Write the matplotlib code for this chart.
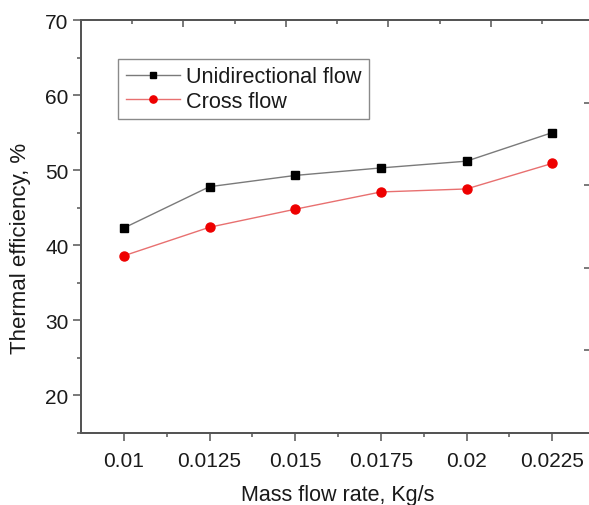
import matplotlib
matplotlib.use("Agg")
import matplotlib.pyplot as plt
from matplotlib.ticker import MultipleLocator, FixedLocator

plt.rcParams['font.family'] = ['Liberation Sans', 'DejaVu Sans']

# data
mass_flow = [0.01, 0.0125, 0.015, 0.0175, 0.02, 0.0225]
unidirectional = [42.3, 47.8, 49.3, 50.3, 51.2, 55.0]
cross = [38.6, 42.4, 44.8, 47.1, 47.5, 50.9]
xtick_labels = ['0.01', '0.0125', '0.015', '0.0175', '0.02', '0.0225']
x_minor = [0.01125, 0.01375, 0.01625, 0.01875, 0.02125]

spine_col = '#555555'
text_col = '#1a1a1a'

fig = plt.figure(figsize=(5.89, 5.06), dpi=100)
# right edge of the frame lies just outside the picture, as in the reference
ax = fig.add_axes([81/589, 1 - 434/506, 514/589, 413/506])

ax.plot(mass_flow, unidirectional, color='#7a7a7a', lw=1.0, marker='s',
        ms=6, mfc='black', mec='black', label='Unidirectional flow')
ax.plot(mass_flow, cross, color='#e87070', lw=1.0, marker='o',
        ms=6.5, mfc='#ee0000', mec='#ee0000', label='Cross flow')

ax.set_xlim(0.00875, 0.02375)
ax.set_ylim(15, 70)
ax.set_xticks(mass_flow)
ax.set_xticklabels(xtick_labels)
ax.xaxis.set_minor_locator(FixedLocator(x_minor))
ax.set_yticks([20, 30, 40, 50, 60, 70])
ax.yaxis.set_minor_locator(MultipleLocator(5))

ax.tick_params(which='both', direction='out', color=spine_col, width=1.1,
               labelsize=15, labelcolor=text_col, top=False, right=False)
ax.tick_params(which='major', length=6)
ax.tick_params(which='minor', length=3)
ax.tick_params(axis='x', which='major', pad=7)
ax.tick_params(axis='y', which='major', pad=3)
for s in ax.spines.values():
    s.set_color(spine_col)
    s.set_linewidth(1.4)

ax.set_xlabel('Mass flow rate, Kg/s', fontsize=15.5, color=text_col, labelpad=10)
ax.set_ylabel('Thermal efficiency, %', fontsize=16, color=text_col)
ax.yaxis.set_label_coords(-0.097, 0.45)

# separate tick scales drawn on the top and right frame edges
top = ax.twiny()
top.set_xlim(0, 10.03)
top.xaxis.set_major_locator(MultipleLocator(2))
top.xaxis.set_minor_locator(MultipleLocator(1))
top.tick_params(which='both', direction='in', color=spine_col, width=1.1,
                labeltop=False)
top.tick_params(which='major', length=5)
top.tick_params(which='minor', length=3)
right = ax.twinx()
right.set_ylim(0, 5)
right.yaxis.set_major_locator(MultipleLocator(1))
right.tick_params(which='both', direction='in', color=spine_col, width=1.1,
                  length=8, labelright=False)
for a in (top, right):
    for s in a.spines.values():
        s.set_color(spine_col)
        s.set_linewidth(1.4)

leg = ax.legend(loc='upper left', bbox_to_anchor=(0.072, 0.906), borderaxespad=0,
                fontsize=15.6, fancybox=False, edgecolor='#8a8a8a', framealpha=1,
                handlelength=2.5, handletextpad=0.3, borderpad=0.35,
                labelspacing=0.15, markerscale=0.8)
leg.get_frame().set_linewidth(1.0)
for t in leg.get_texts():
    t.set_color(text_col)

fig.savefig('out.png', dpi=100)
